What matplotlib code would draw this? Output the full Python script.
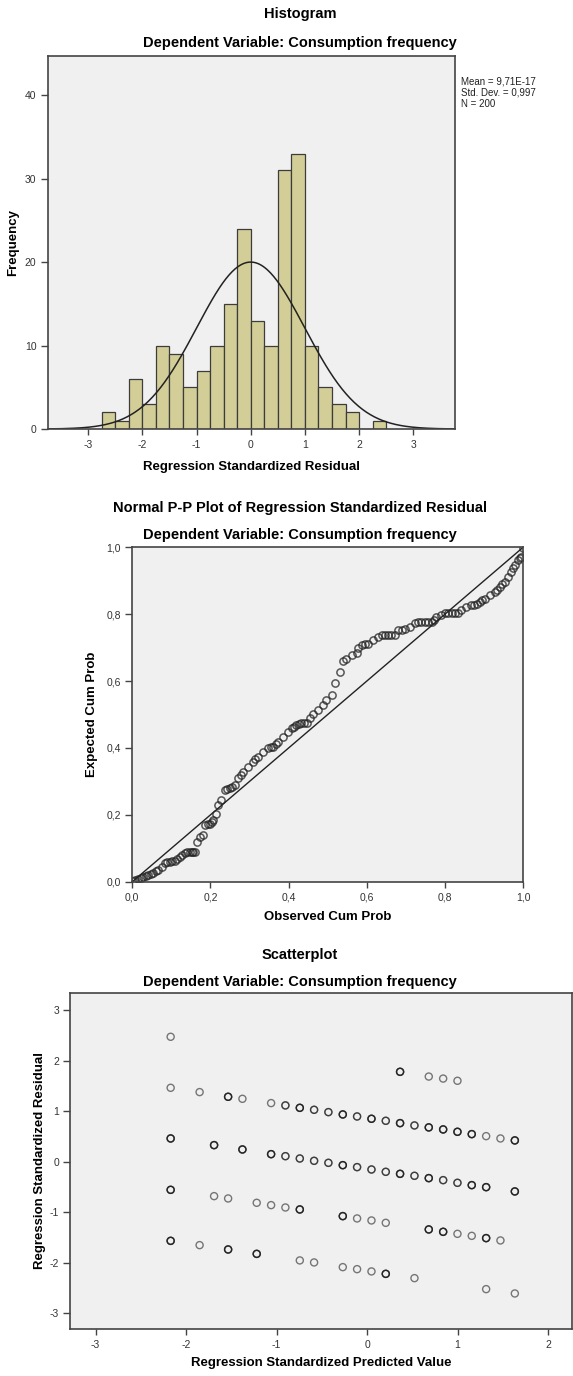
import numpy as np
import matplotlib
matplotlib.use('Agg')
import matplotlib.pyplot as plt
from matplotlib.ticker import FuncFormatter

plt.rcParams['font.family'] = ['Liberation Sans', 'DejaVu Sans']
plt.rcParams['axes.unicode_minus'] = False

# residual histogram (bin edges and counts)
bin_edges = [-2.75, -2.5, -2.25, -2.0, -1.75, -1.5, -1.25, -1.0, -0.75, -0.5, -0.25,
             0.0, 0.25, 0.5, 0.75, 1.0, 1.25, 1.5, 1.75, 2.0, 2.25, 2.5]
bin_counts = [2, 1, 6, 3, 10, 9, 5, 7, 10, 15, 24, 13, 10, 31, 33, 10, 5, 3, 2, 0, 1]
res_mean = 9.71e-17
res_sd = 0.997
res_n = 200

# normal P-P plot
pp_observed = [0.003, 0.015, 0.028, 0.041, 0.054, 0.066, 0.075, 0.084, 0.096, 0.109,
               0.122, 0.135, 0.147, 0.156, 0.165, 0.173, 0.182, 0.186, 0.199, 0.207,
               0.213, 0.220, 0.228, 0.237, 0.250, 0.263, 0.271, 0.284, 0.297, 0.309,
               0.322, 0.335, 0.348, 0.361, 0.373, 0.386, 0.399, 0.408, 0.420, 0.433,
               0.446, 0.454, 0.463, 0.476, 0.488, 0.497, 0.510, 0.520, 0.531, 0.540,
               0.548, 0.561, 0.574, 0.578, 0.587, 0.604, 0.616, 0.629, 0.638, 0.655,
               0.672, 0.680, 0.697, 0.710, 0.723, 0.731, 0.749, 0.766, 0.778, 0.791,
               0.800, 0.817, 0.834, 0.842, 0.855, 0.868, 0.881, 0.889, 0.902, 0.915,
               0.928, 0.940, 0.953, 0.962, 0.970, 0.979, 0.987, 0.996, 1.000,
               0.007, 0.021, 0.034, 0.047, 0.060, 0.090, 0.102, 0.115, 0.128, 0.141,
               0.152, 0.160, 0.193, 0.203, 0.243, 0.256, 0.278, 0.315, 0.355, 0.367,
               0.414, 0.426, 0.440, 0.595, 0.646, 0.663, 0.689, 0.740, 0.757, 0.772,
               0.808, 0.825, 0.875, 0.895, 0.934, 0.947, 0.974, 0.991]
pp_expected = [0.003, 0.007, 0.013, 0.020, 0.027, 0.035, 0.045, 0.055, 0.060, 0.063,
               0.075, 0.085, 0.090, 0.090, 0.120, 0.135, 0.140, 0.169, 0.174, 0.184,
               0.204, 0.229, 0.244, 0.274, 0.279, 0.289, 0.309, 0.329, 0.344, 0.359,
               0.374, 0.389, 0.399, 0.404, 0.419, 0.434, 0.449, 0.459, 0.469, 0.474,
               0.476, 0.489, 0.503, 0.513, 0.528, 0.543, 0.558, 0.593, 0.628, 0.661,
               0.665, 0.678, 0.683, 0.698, 0.708, 0.711, 0.723, 0.733, 0.738, 0.738,
               0.738, 0.753, 0.755, 0.763, 0.773, 0.778, 0.778, 0.778, 0.791, 0.798,
               0.803, 0.805, 0.805, 0.813, 0.823, 0.828, 0.830, 0.837, 0.847, 0.857,
               0.867, 0.882, 0.897, 0.912, 0.927, 0.947, 0.962, 0.970, 0.997,
               0.005, 0.010, 0.017, 0.023, 0.031, 0.059, 0.062, 0.069, 0.080, 0.088,
               0.090, 0.090, 0.172, 0.179, 0.276, 0.282, 0.319, 0.367, 0.402, 0.411,
               0.464, 0.472, 0.475, 0.710, 0.738, 0.738, 0.754, 0.778, 0.778, 0.783,
               0.805, 0.805, 0.829, 0.842, 0.874, 0.890, 0.937, 0.967]

# residuals vs predicted values (n = how many cases share the point)
sc_pred = [-2.17, 0.365, 0.682, 0.841, 0.999,
           -2.17, -1.85, -1.535, -1.377, -1.06, -0.902, -0.743, -0.585, -0.427, -0.268,
           -0.11, 0.049, 0.207, 0.365, 0.524, 0.682, 0.841, 0.999, 1.157, 1.316, 1.474, 1.633,
           -2.17, -1.69, -1.377, -1.06, -0.902, -0.743, -0.585, -0.427, -0.268, -0.11,
           0.049, 0.207, 0.365, 0.524, 0.682, 0.841, 0.999, 1.157, 1.316, 1.633,
           -2.17, -1.69, -1.535, -1.219, -1.06, -0.902, -0.743, -0.268, -0.11, 0.049,
           0.207, 0.682, 0.841, 0.999, 1.157, 1.316, 1.474,
           -2.17, -1.85, -1.535, -1.219, -0.743, -0.585, -0.268, -0.11, 0.049, 0.207,
           0.524, 1.316, 1.633]
sc_resid = [2.478, 1.784, 1.690, 1.650, 1.606,
            1.467, 1.382, 1.289, 1.249, 1.164, 1.118, 1.070, 1.031, 0.985, 0.939,
            0.899, 0.853, 0.813, 0.767, 0.721, 0.682, 0.642, 0.595, 0.549, 0.509, 0.463, 0.424,
            0.463, 0.331, 0.245, 0.152, 0.112, 0.066, 0.020, -0.020, -0.066, -0.105,
            -0.152, -0.198, -0.238, -0.277, -0.323, -0.363, -0.416, -0.462, -0.502, -0.587,
            -0.555, -0.680, -0.726, -0.812, -0.858, -0.905, -0.944, -1.076, -1.122, -1.162,
            -1.209, -1.340, -1.387, -1.427, -1.467, -1.512, -1.558,
            -1.566, -1.651, -1.737, -1.824, -1.954, -1.994, -2.087, -2.127, -2.172, -2.220,
            -2.305, -2.523, -2.609]
sc_n = [1, 3, 1, 1, 1,
        1, 1, 3, 1, 1, 2, 3, 2, 2, 3, 2, 3, 2, 3, 2, 3, 3, 3, 3, 1, 1, 3,
        3, 3, 3, 3, 2, 2, 2, 2, 3, 2, 2, 2, 3, 2, 3, 2, 2, 3, 3, 3,
        3, 1, 1, 1, 1, 1, 3, 3, 1, 1, 1, 3, 3, 1, 1, 3, 1,
        3, 1, 3, 3, 1, 1, 1, 1, 1, 3, 1, 1, 1]

title_fs = 10.5
label_fs = 9.5
tick_fs = 7.5
bg = '#f0f0f0'
frame = '#444444'


def style_axes(ax):
    ax.set_facecolor(bg)
    for s in ax.spines.values():
        s.set_color(frame)
        s.set_linewidth(1.2)
    ax.tick_params(axis='y', length=5, width=1.0, color=frame, labelsize=tick_fs,
                   labelcolor='#333333', pad=3)
    ax.tick_params(axis='x', length=4, width=1.0, color=frame, labelsize=tick_fs,
                   labelcolor='#333333', pad=4)


fig = plt.figure(figsize=(5.73, 13.76), dpi=100)
tx = 0.5236

# --- Histogram ---
ax1 = fig.add_axes([0.0829, 0.6882, 0.7112, 0.2711])
style_axes(ax1)
ax1.bar(bin_edges[:-1], bin_counts, width=np.diff(bin_edges), align='edge',
        color='#d3ce97', edgecolor='#3c3c3c', linewidth=0.9)
xs = np.linspace(-3.75, 3.75, 400)
bw = bin_edges[1] - bin_edges[0]
curve = res_n * bw * np.exp(-0.5 * ((xs - res_mean) / res_sd) ** 2) / (res_sd * np.sqrt(2 * np.pi))
ax1.plot(xs, curve, color='#222222', lw=1.1)
ax1.set_xlim(-3.75, 3.77)
ax1.set_ylim(0, 44.7)
ax1.set_xticks([-3, -2, -1, 0, 1, 2, 3])
ax1.set_yticks([0, 10, 20, 30, 40])
fig.text(tx, 0.9898, 'Histogram', ha='center', va='center', fontsize=title_fs, fontweight='bold')
fig.text(tx, 0.9688, 'Dependent Variable: Consumption frequency', ha='center', va='center',
         fontsize=title_fs, fontweight='bold')
fig.text(0.4389, 0.6606, 'Regression Standardized Residual', ha='center', va='center',
         fontsize=label_fs, fontweight='bold')
fig.text(0.0223, 0.8237, 'Frequency', rotation=90, ha='center', va='center',
         fontsize=label_fs, fontweight='bold')
fig.text(0.8045, 0.9445, 'Mean = 9,71E-17\nStd. Dev. = 0,997\nN = 200', ha='left', va='top',
         fontsize=7, color='#222222', linespacing=1.15)

# --- Normal P-P plot ---
ax2 = fig.add_axes([0.2309, 0.3592, 0.6819, 0.2430])
style_axes(ax2)
ax2.plot([0, 1], [0, 1], color='#222222', lw=1.0)
ax2.plot(pp_observed, pp_expected, 'o', ms=5.2, mfc='none', mec='#222222', mew=1.1, alpha=0.75)
ax2.set_xlim(0, 1)
ax2.set_ylim(0, 1)
ticks = [0, 0.2, 0.4, 0.6, 0.8, 1.0]
comma = FuncFormatter(lambda v, p: ('%.1f' % v).replace('.', ','))
ax2.set_xticks(ticks)
ax2.set_yticks(ticks)
ax2.xaxis.set_major_formatter(comma)
ax2.yaxis.set_major_formatter(comma)
fig.text(tx, 0.6308, 'Normal P-P Plot of Regression Standardized Residual', ha='center',
         va='center', fontsize=title_fs, fontweight='bold')
fig.text(tx, 0.6112, 'Dependent Variable: Consumption frequency', ha='center', va='center',
         fontsize=title_fs, fontweight='bold')
fig.text(0.5718, 0.3336, 'Observed Cum Prob', ha='center', va='center',
         fontsize=label_fs, fontweight='bold')
fig.text(0.1606, 0.4807, 'Expected Cum Prob', rotation=90, ha='center', va='center',
         fontsize=label_fs, fontweight='bold')

# --- Scatterplot ---
ax3 = fig.add_axes([0.1225, 0.0339, 0.8766, 0.2446])
style_axes(ax3)
for x, y, n in zip(sc_pred, sc_resid, sc_n):
    for _ in range(n):
        ax3.scatter(x, y, s=26, facecolors='none', edgecolors='#111111', linewidths=1.0, alpha=0.55)
ax3.set_xlim(-3.28, 2.27)
ax3.set_ylim(-3.32, 3.35)
ax3.set_xticks([-3, -2, -1, 0, 1, 2])
ax3.set_yticks([-3, -2, -1, 0, 1, 2, 3])
fig.text(tx, 0.3060, 'Scatterplot', ha='center', va='center', fontsize=title_fs, fontweight='bold')
fig.text(tx, 0.2866, 'Dependent Variable: Consumption frequency', ha='center', va='center',
         fontsize=title_fs, fontweight='bold')
fig.text(0.5605, 0.0094, 'Regression Standardized Predicted Value', ha='center', va='center',
         fontsize=label_fs, fontweight='bold')
fig.text(0.0698, 0.1563, 'Regression Standardized Residual', rotation=90, ha='center',
         va='center', fontsize=label_fs, fontweight='bold')

fig.savefig('out.png', dpi=100, facecolor='white')
